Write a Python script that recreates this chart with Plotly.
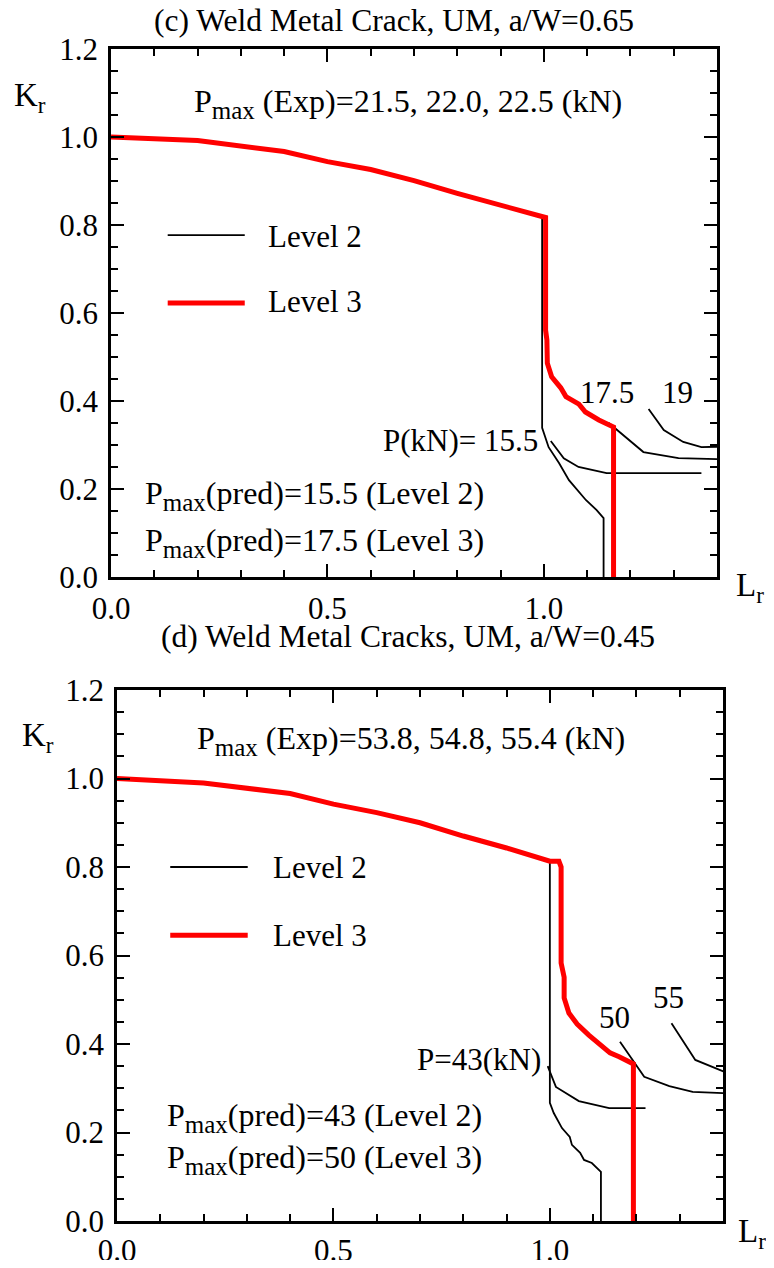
import plotly.graph_objects as go

# ---------------- data: panel (c) a/W=0.65 ----------------
c_l3_x = [0.0, 0.2, 0.4, 0.5, 0.6, 0.7, 0.8, 0.9, 1.0, 1.004, 1.004, 1.007, 1.008, 1.018, 1.039, 1.051, 1.081, 1.096, 1.127, 1.145, 1.161, 1.161]
c_l3_y = [1.0, 0.992, 0.967, 0.944, 0.926, 0.901, 0.872, 0.845, 0.817, 0.817, 0.561, 0.539, 0.486, 0.455, 0.43, 0.41, 0.393, 0.375, 0.357, 0.35, 0.341, 0.0]
c_l2_x = [0.0, 0.2, 0.4, 0.5, 0.6, 0.7, 0.8, 0.9, 0.996, 0.996, 1.011, 1.035, 1.058, 1.097, 1.122, 1.138, 1.138]
c_l2_y = [1.0, 0.992, 0.967, 0.944, 0.926, 0.901, 0.872, 0.845, 0.817, 0.339, 0.295, 0.259, 0.22, 0.175, 0.152, 0.134, 0.0]
c_p155_x = [1.016, 1.046, 1.08, 1.145, 1.364]
c_p155_y = [0.309, 0.27, 0.25, 0.236, 0.236]
c_p175_x = [1.15, 1.23, 1.311, 1.4]
c_p175_y = [0.35, 0.284, 0.27, 0.268]
c_p19_x = [1.242, 1.277, 1.322, 1.364, 1.4]
c_p19_y = [0.382, 0.334, 0.307, 0.295, 0.296]

# ---------------- data: panel (d) a/W=0.45 ----------------
d_l3_x = [0.0, 0.2, 0.4, 0.5, 0.6, 0.7, 0.8, 0.9, 1.0, 1.021, 1.026, 1.026, 1.033, 1.033, 1.044, 1.063, 1.09, 1.125, 1.139, 1.16, 1.19, 1.193, 1.193]
d_l3_y = [1.0, 0.99, 0.966, 0.942, 0.923, 0.9, 0.87, 0.843, 0.813, 0.813, 0.80, 0.583, 0.551, 0.504, 0.47, 0.445, 0.42, 0.389, 0.38, 0.371, 0.357, 0.355, 0.0]
d_l2_x = [0.0, 0.2, 0.4, 0.5, 0.6, 0.7, 0.8, 0.9, 1.0, 1.0, 1.009, 1.028, 1.046, 1.051, 1.07, 1.079, 1.097, 1.118, 1.118]
d_l2_y = [1.0, 0.99, 0.966, 0.942, 0.923, 0.9, 0.87, 0.843, 0.813, 0.267, 0.244, 0.21, 0.19, 0.172, 0.154, 0.138, 0.131, 0.111, 0.0]
d_p43_x = [0.995, 1.014, 1.067, 1.137, 1.221]
d_p43_y = [0.35, 0.303, 0.271, 0.255, 0.255]
d_p50_x = [1.162, 1.218, 1.276, 1.33, 1.404]
d_p50_y = [0.405, 0.326, 0.305, 0.292, 0.289]
d_p55_x = [1.281, 1.336, 1.404]
d_p55_y = [0.447, 0.364, 0.337]

x_ticks = [0.0, 0.5, 1.0]
y_ticks = [0.0, 0.2, 0.4, 0.6, 0.8, 1.0, 1.2]

FONT = "Liberation Serif, serif"
OFF = 8                      # page body margin
W, H = 774 - 2 * OFF, 1268 - 2 * OFF
RED = "#ff0000"
SUB = "<sub><span style='font-size:25px'>{}</span></sub>"

def px(x):
    return (x - OFF) / W

def py(y):
    return 1 - (y - OFF) / H

fig = go.Figure()

def add_line(x, y, xa, ya, color, width):
    fig.add_trace(go.Scatter(x=x, y=y, mode="lines", xaxis=xa, yaxis=ya,
                             line=dict(color=color, width=width),
                             showlegend=False, hoverinfo="skip"))

# panel c
add_line(c_l2_x, c_l2_y, "x", "y", "black", 1.8)
add_line(c_p155_x, c_p155_y, "x", "y", "black", 1.8)
add_line(c_p175_x, c_p175_y, "x", "y", "black", 1.8)
add_line(c_p19_x, c_p19_y, "x", "y", "black", 1.8)
add_line(c_l3_x, c_l3_y, "x", "y", RED, 5)
# panel d
add_line(d_l2_x, d_l2_y, "x2", "y2", "black", 1.8)
add_line(d_p43_x, d_p43_y, "x2", "y2", "black", 1.8)
add_line(d_p50_x, d_p50_y, "x2", "y2", "black", 1.8)
add_line(d_p55_x, d_p55_y, "x2", "y2", "black", 1.8)
add_line(d_l3_x, d_l3_y, "x2", "y2", RED, 5)

def xax(domain, anchor, standoff):
    return dict(domain=domain, anchor=anchor, range=[0, 1.4], automargin=False,
                showline=True, linecolor="black", linewidth=2.5, mirror="allticks",
                ticks="inside", ticklen=13, tickwidth=2, tickcolor="black",
                tickvals=x_ticks, ticktext=[f"{v:.1f}" for v in x_ticks],
                minor=dict(dtick=0.1, tick0=0, ticks="inside", ticklen=7, tickwidth=2, tickcolor="black"),
                showgrid=False, zeroline=False,
                tickfont=dict(family=FONT, size=31, color="black"), ticklabelstandoff=standoff)

def yax(domain, anchor):
    return dict(domain=domain, anchor=anchor, range=[0, 1.2], automargin=False,
                showline=True, linecolor="black", linewidth=2.5, mirror="allticks",
                ticks="inside", ticklen=13, tickwidth=2, tickcolor="black",
                tickvals=y_ticks, ticktext=[f"{v:.1f}" for v in y_ticks],
                minor=dict(dtick=0.05, tick0=0, ticks="inside", ticklen=7, tickwidth=2, tickcolor="black"),
                showgrid=False, zeroline=False,
                tickfont=dict(family=FONT, size=31, color="black"), ticklabelstandoff=4)

fig.update_layout(
    width=W, height=H, autosize=False,
    margin=dict(l=0, r=0, t=0, b=0, pad=0, autoexpand=False),
    paper_bgcolor="white", plot_bgcolor="white", showlegend=False,
    xaxis=xax([px(111), px(717)], "y", 2),
    yaxis=yax([py(577), py(49)], "x"),
    xaxis2=xax([px(117), px(723)], "y2", 0),
    yaxis2=yax([py(1221), py(690)], "x2"),
)

annots = []
def txt(text, x, y, xr, yr, xanchor="left", yanchor="middle", size=32):
    annots.append(dict(text=text, x=x, y=y, xref=xr, yref=yr, xanchor=xanchor, yanchor=yanchor,
                       showarrow=False, font=dict(family=FONT, size=size, color="black")))

# titles
txt("(c) Weld Metal Crack, UM, a/W=0.65", px(394), py(21), "paper", "paper", "center", "middle", 31.5)
txt("(d) Weld Metal Cracks, UM, a/W=0.45", px(408), py(636), "paper", "paper", "center", "middle", 31.5)
# axis titles
txt("K<sub>r</sub>", px(12), py(97), "paper", "paper", "left", "middle", 33)
txt("L<sub>r</sub>", px(734), py(587), "paper", "paper", "left", "middle", 33)
txt("K<sub>r</sub>", px(20), py(737), "paper", "paper", "left", "middle", 33)
txt("L<sub>r</sub>", px(736), py(1233), "paper", "paper", "left", "middle", 33)

PM = "P" + SUB.format("max")
# panel c texts
txt(PM + " (Exp)=21.5, 22.0, 22.5 (kN)", 0.187, 1.075, "x", "y")
txt("17.5", 1.147, 0.42, "x", "y", "center", size=31)
txt("19", 1.309, 0.42, "x", "y", "center", size=31)
txt("P(kN)= 15.5", 0.99, 0.31, "x", "y", "right", size=31)
txt(PM + "(pred)=15.5 (Level 2)", 0.074, 0.185, "x", "y")
txt(PM + "(pred)=17.5 (Level 3)", 0.074, 0.078, "x", "y")
txt("Level 2", 0.359, 0.773, "x", "y", size=31)
txt("Level 3", 0.359, 0.625, "x", "y", size=31)
# panel d texts
txt(PM + " (Exp)=53.8, 54.8, 55.4 (kN)", 0.181, 1.085, "x2", "y2")
txt("50", 1.149, 0.461, "x2", "y2", "center", size=31)
txt("55", 1.274, 0.506, "x2", "y2", "center", size=31)
txt("P=43(kN)", 0.983, 0.364, "x2", "y2", "right", size=31)
txt(PM + "(pred)=43 (Level 2)", 0.111, 0.235, "x2", "y2")
txt(PM + "(pred)=50 (Level 3)", 0.111, 0.138, "x2", "y2")
txt("Level 2", 0.355, 0.798, "x2", "y2", size=31)
txt("Level 3", 0.355, 0.646, "x2", "y2", size=31)

fig.update_layout(annotations=annots)

# legend key samples
legend_keys = [
    ("x", "y", 0.131, 0.309, 0.777, "black", 1.8),
    ("x", "y", 0.131, 0.309, 0.623, RED, 5),
    ("x2", "y2", 0.123, 0.302, 0.800, "black", 1.8),
    ("x2", "y2", 0.123, 0.302, 0.646, RED, 5),
]
for xr, yr, x0, x1, yv, col, wd in legend_keys:
    fig.add_shape(type="line", xref=xr, yref=yr, x0=x0, x1=x1, y0=yv, y1=yv,
                  line=dict(color=col, width=wd))

fig.write_html("out.html")
